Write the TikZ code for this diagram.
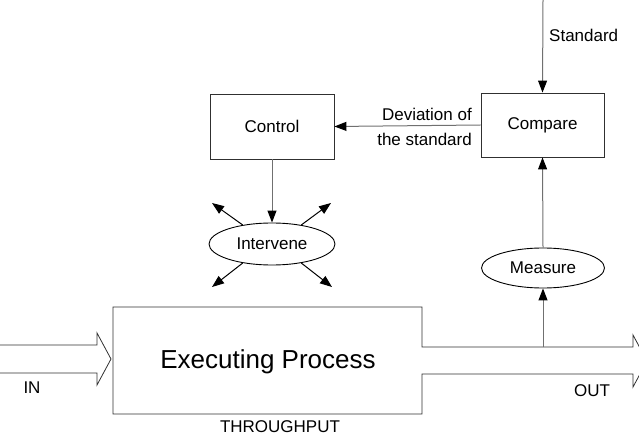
\documentclass[tikz,border=0pt]{standalone}
\usepackage{fontspec}
\setmainfont{Liberation Sans}
\usetikzlibrary{arrows.meta,shapes.geometric}
\definecolor{linegray}{HTML}{707070}
\definecolor{boxline}{HTML}{303030}
\tikzset{
  x=1pt, y=-1pt,
  txt/.style={font=\fontsize{17}{20}\selectfont, inner sep=0pt},
  box/.style={draw=boxline, line width=0.9pt, rectangle, inner sep=0pt, font=\fontsize{17}{20}\selectfont},
  oval/.style={draw=black, line width=0.9pt, ellipse, inner sep=0pt, font=\fontsize{17}{20}\selectfont},
  conn/.style={draw=linegray, line width=1pt, -{Triangle[length=12pt,width=9pt,color=black]}},
  fat/.style={draw=boxline, line width=0.8pt, line join=miter}
}
\begin{document}
\begin{tikzpicture}
\useasboundingbox (0,0) rectangle (639,438);

% control loop boxes
\node[box, minimum width=124pt, minimum height=65pt] (control) at (272,126.5) {Control};
\node[box, minimum width=123pt, minimum height=64pt] (compare) at (542.5,125) {Compare};
\node[oval, minimum width=126pt, minimum height=42pt] (intervene) at (272,244) {Intervene};
\node[oval, minimum width=123pt, minimum height=40pt] (measure) at (543,268) {Measure};

% executing process with its output channel
\draw[fat] (113,307) -- (422,307) -- (422,347) -- (633,347) -- (633,335) -- (647,361)
  -- (633,387) -- (633,374) -- (422,374) -- (422,414) -- (113,414) -- cycle;
\node[inner sep=0pt, font=\fontsize{26}{30}\selectfont] (proc) at (268,362) {Executing Process};

% input channel
\draw[fat] (0,345) -- (97,345) -- (97,333) -- (111,359) -- (97,385) -- (97,373) -- (0,373);

% labels
\node[txt] (in) at (32,388) {IN};
\node[txt] (out) at (592,391) {OUT};
\node[txt] (thru) at (280,427) {THROUGHPUT};
\node[txt, anchor=west] (stdlbl) at (549,35) {Standard};
\node[txt, align=right, anchor=east, font=\fontsize{17}{25}\selectfont] (devlbl) at (472,127) {Deviation of\\the standard};

% connectors
\coordinate (stdtop) at (543,0);
\coordinate (tap) at (543,347);
\draw[conn] (stdtop) -- (compare.north);
\draw[conn] (compare.west) -- (control.east);
\draw[conn] (control.south) -- (intervene.north);
\draw[conn] (measure.north) -- (compare.south);
\draw[conn] (tap) -- (measure.south);

% intervention spreading outwards
\coordinate (ul) at (212,203);
\coordinate (ur) at (331,203);
\coordinate (ll) at (212,287);
\coordinate (lr) at (332,287);
\draw[conn, draw=black] (intervene.147) -- (ul);
\draw[conn, draw=black] (intervene.33) -- (ur);
\draw[conn, draw=black] (intervene.213) -- (ll);
\draw[conn, draw=black] (intervene.327) -- (lr);
\end{tikzpicture}
\end{document}
